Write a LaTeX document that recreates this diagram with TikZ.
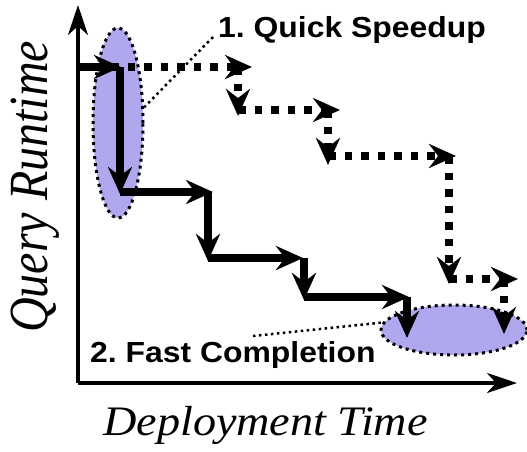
\documentclass[tikz,border=0pt]{standalone}
\usepackage{fontspec}
\setmainfont{Liberation Serif}
\newfontfamily\labelfont{Liberation Sans}
\usetikzlibrary{arrows.meta,shapes.geometric}
\definecolor{lav}{RGB}{176,168,238}
\begin{document}
\frenchspacing
\begin{tikzpicture}[x=1pt,y=-1pt,
  axis/.style={line width=3.5pt,-{Stealth[length=30pt,width=20pt,inset=9pt]}},
  hop/.style={line width=7.5pt,-{Stealth[length=27pt,width=24pt,inset=9pt]}},
  slowhop/.style={hop,dash pattern=on 7.5pt off 9pt},
  zone/.style={ellipse,fill=lav,draw=black,line width=3pt,dash pattern=on 3pt off 4pt,inner sep=0pt},
  leader/.style={line width=2.5pt,dash pattern=on 2.5pt off 3.5pt},
  tag/.style={font=\labelfont\bfseries\fontsize{29}{29}\selectfont,inner sep=0pt,anchor=base west},
  axlabel/.style={inner sep=0pt,anchor=base west}
]
\useasboundingbox (0,0) rectangle (527,451);

% highlighted regions
\node[zone,minimum width=50pt,minimum height=190pt] (quick) at (118,123) {};
\node[zone,minimum width=146pt,minimum height=50pt] (fast) at (454,330) {};

% axes
\coordinate (origin) at (78,383);
\coordinate (ytop) at (78,5);
\coordinate (xend) at (517,383);
\draw[axis] (origin) -- (ytop);
\draw[axis] (origin) -- (xend);

% labels
\node[tag] (speed) at (218,37) {\scalebox{1.1}[1]{1. Quick Speedup}};
\node[tag] (done) at (90,362) {\scalebox{1.1}[1]{2. Fast Completion}};
\node[axlabel,font=\itshape\fontsize{42}{42}\selectfont] (xlab) at (103,435) {\scalebox{1.1}[1]{Deployment Time}};
\node[axlabel,rotate=90,font=\itshape\fontsize{48}{48}\selectfont] (ylab) at (47,333) {\scalebox{1}[1.15]{Query Runtime}};

% leader lines
\coordinate (l1) at (213,37);
\coordinate (l2) at (253,336);
\draw[leader] (l1) -- (quick.31);
\draw[leader] (l2) -- (fast.174);

% slow path (dashed staircase)
\coordinate (b0) at (78,67);   \coordinate (b1) at (252,67);
\coordinate (b2) at (238,67);  \coordinate (b3) at (238,116);
\coordinate (b4) at (238,110); \coordinate (b5) at (340,110);
\coordinate (b6) at (328,110); \coordinate (b7) at (328,165);
\coordinate (b8) at (328,156); \coordinate (b9) at (456,156);
\coordinate (b10) at (449,156); \coordinate (b11) at (449,284);
\coordinate (b12) at (449,279); \coordinate (b13) at (518,279);
\coordinate (b14) at (504,279); \coordinate (b15) at (504,334);
\draw[slowhop] (b0) -- (b1);
\draw[slowhop] (b2) -- (b3);
\draw[slowhop] (b4) -- (b5);
\draw[slowhop] (b6) -- (b7);
\draw[slowhop] (b8) -- (b9);
\draw[slowhop] (b10) -- (b11);
\draw[slowhop] (b12) -- (b13);
\draw[slowhop] (b14) -- (b15);

% fast path (solid staircase)
\coordinate (a0) at (78,67);   \coordinate (a1) at (121,67);
\coordinate (a2) at (120,67);  \coordinate (a3) at (120,194);
\coordinate (a4) at (120,192); \coordinate (a5) at (213,192);
\coordinate (a6) at (208,192); \coordinate (a7) at (208,261);
\coordinate (a8) at (208,258); \coordinate (a9) at (303,258);
\coordinate (a10) at (304,258); \coordinate (a11) at (304,300);
\coordinate (a12) at (304,297); \coordinate (a13) at (409,297);
\coordinate (a14) at (407,297); \coordinate (a15) at (407,338);
\draw[hop] (a0) -- (a1);
\draw[hop] (a2) -- (a3);
\draw[hop] (a4) -- (a5);
\draw[hop] (a6) -- (a7);
\draw[hop] (a8) -- (a9);
\draw[hop] (a10) -- (a11);
\draw[hop] (a12) -- (a13);
\draw[hop] (a14) -- (a15);
\end{tikzpicture}
\end{document}
